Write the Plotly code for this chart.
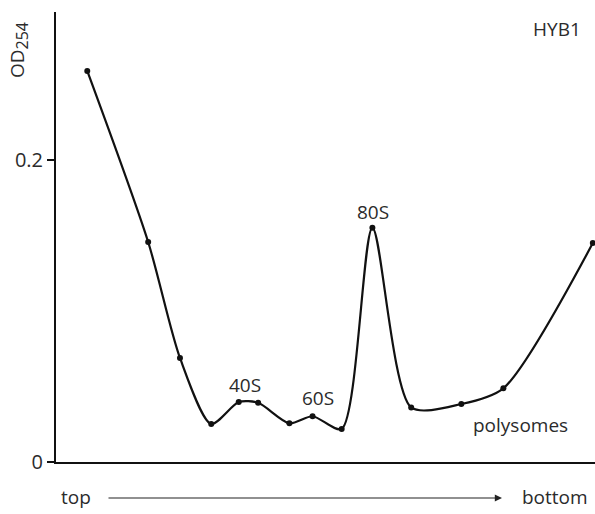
import plotly.graph_objects as go

# Gradient position (% of gradient length, top -> bottom) and absorbance
position = [5.8, 17.1, 23.0, 28.8, 33.9, 37.5, 43.3, 47.6, 53.0, 58.7, 65.9, 75.2, 83.0, 99.6]
od254 = [0.259, 0.1457, 0.0689, 0.0252, 0.0397, 0.0392, 0.0256, 0.0303, 0.0219, 0.1551, 0.0361, 0.0384, 0.0488, 0.1450]

# Peak labels: (text, x position, y value)
peak_labels = ["40S", "60S", "80S", "polysomes"]
peak_x = [35.0, 48.6, 58.8, 86.1]
peak_y = [0.0510, 0.0425, 0.1655, 0.0245]

y_ticks = [0, 0.2]
y_tick_text = ["0", "0.2"]

FONT = "Open Sans"
TXT = "#2b2b2b"
FS = 19


def px_x(p):
    return (p - 56) / 539


def px_y(p):
    return (462 - p) / 450


fig = go.Figure()
fig.add_trace(go.Scatter(
    x=position, y=od254, mode="lines+markers",
    line=dict(color="#111111", width=2.2, shape="spline", smoothing=0.75),
    marker=dict(color="#111111", size=6),
    cliponaxis=False, showlegend=False,
))

for t, xv, yv in zip(peak_labels, peak_x, peak_y):
    fig.add_annotation(x=xv, y=yv, text=t, showarrow=False,
                       xanchor="center", yanchor="middle",
                       font=dict(family=FONT, size=FS, color=TXT))

# Axis title (rotated) and panel name
fig.add_annotation(xref="paper", yref="paper", x=px_x(19), y=px_y(50),
                   xanchor="center", yanchor="middle",
                   text='OD<sub><span style="font-size:16px">254</span></sub>',
                   textangle=-90, showarrow=False,
                   font=dict(family=FONT, size=FS, color=TXT))
fig.add_annotation(xref="paper", yref="paper", x=px_x(557), y=px_y(29),
                   xanchor="center", yanchor="middle",
                   text="HYB1", showarrow=False,
                   font=dict(family=FONT, size=FS, color=TXT))

# Gradient direction under the x axis
fig.add_annotation(xref="paper", yref="paper", x=px_x(76), y=px_y(497),
                   xanchor="center", yanchor="middle",
                   text="top", showarrow=False,
                   font=dict(family=FONT, size=FS, color=TXT))
fig.add_annotation(xref="paper", yref="paper", x=px_x(555), y=px_y(497),
                   xanchor="center", yanchor="middle",
                   text="bottom", showarrow=False,
                   font=dict(family=FONT, size=FS, color=TXT))
fig.add_annotation(xref="paper", yref="paper", x=px_x(502), y=px_y(498),
                   ax=-395, ay=0, text="", showarrow=True,
                   arrowhead=2, arrowsize=1.2, arrowwidth=1.2, arrowcolor="#222222")

fig.update_xaxes(range=[0, 100], showgrid=False, zeroline=False,
                 showline=True, linecolor="#111111", linewidth=2,
                 showticklabels=False, ticks="")
fig.update_yaxes(range=[0, 0.298], showgrid=False, zeroline=False,
                 showline=True, linecolor="#111111", linewidth=2,
                 tickvals=y_ticks, ticktext=y_tick_text, ticks="outside",
                 ticklen=7, tickwidth=1.5, tickcolor="#111111",
                 tickfont=dict(family=FONT, size=20, color=TXT))

fig.update_layout(width=595, height=514,
                  margin=dict(l=56, r=0, t=12, b=52),
                  plot_bgcolor="white", paper_bgcolor="white")

fig.write_html("out.html")
